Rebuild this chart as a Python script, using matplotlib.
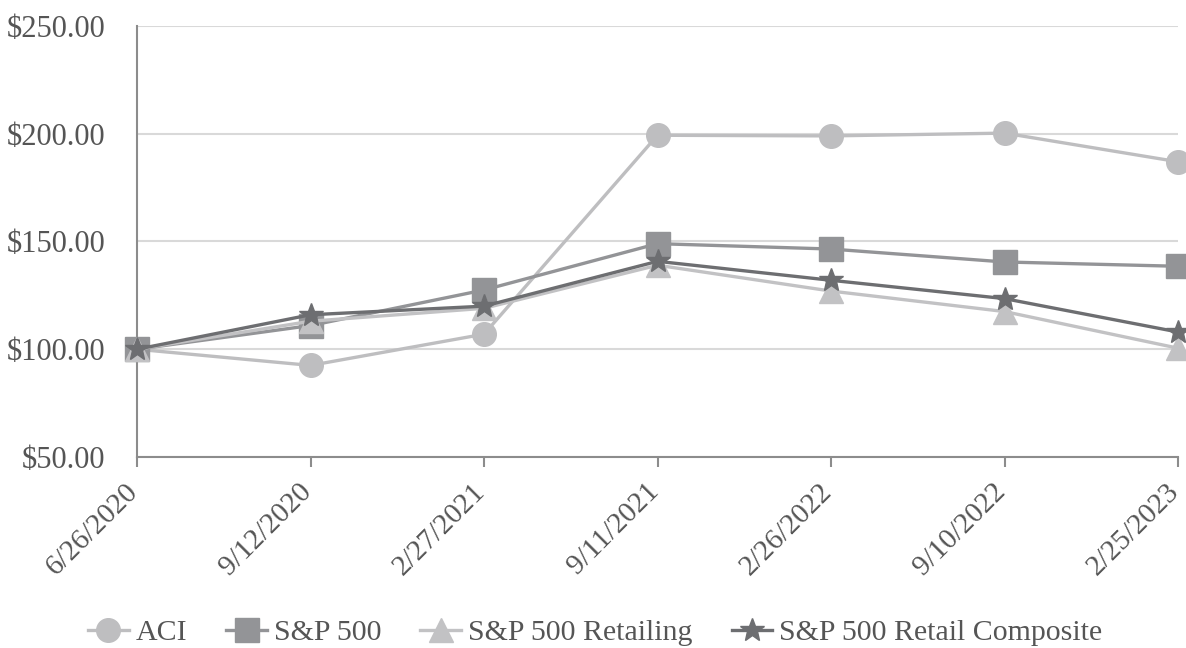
import matplotlib
matplotlib.use("Agg")
import matplotlib.pyplot as plt
from matplotlib.transforms import ScaledTranslation

dates = ["6/26/2020", "9/12/2020", "2/27/2021", "9/11/2021", "2/26/2022", "9/10/2022", "2/25/2023"]
aci = [100, 92.5, 107, 199.3, 199, 200.3, 187]
sp500 = [100, 111, 127.5, 149, 146.5, 140.5, 138.5]
retailing = [100, 113, 119, 139, 127, 117.5, 100.5]
composite = [100, 116, 120, 140.8, 132, 123.5, 108]
yticks = [50, 100, 150, 200, 250]

plt.rcParams['font.family'] = ['Liberation Serif', 'DejaVu Serif']
TXT = "#555555"
AXC = "#8C8C8C"

fig = plt.figure(figsize=(11.86, 6.48), dpi=100)
ax = fig.add_axes([137/1186, 1-457/648, (1178-137)/1186, (457-26)/648])

x = list(range(len(dates)))
series = [
    ("ACI", aci, "#BEBEC0", "o", 17),
    ("S&P 500", sp500, "#939497", "s", 17),
    ("S&P 500 Retailing", retailing, "#C2C2C4", "^", 17),
    ("S&P 500 Retail Composite", composite, "#6D6E71", "*", 18),
]
for name, vals, col, mk, ms in series:
    ax.plot(x, vals, color=col, lw=2.4, marker=mk, markersize=ms, label=name,
            clip_on=False, zorder=3)

ax.set_xlim(0, len(dates) - 1)
ax.set_ylim(50, 250)
ax.set_yticks(yticks)
ax.set_yticklabels([f"${v:.2f}" for v in yticks], fontsize=22, color=TXT)
ax.set_xticks(x)
ax.set_xticklabels(dates, rotation=45, ha="right", va="top", rotation_mode="anchor",
                   fontsize=21, color=TXT)
ax.tick_params(axis="y", length=0, pad=23)
ax.tick_params(axis="x", length=7.5, width=1.5, color=AXC, direction="out", pad=8)
off = ScaledTranslation(-0.12, 0, fig.dpi_scale_trans)
for lab in ax.get_xticklabels():
    lab.set_transform(lab.get_transform() + off)
ax.grid(axis="y", color="#D9D9D9", lw=1.5)
ax.set_axisbelow(True)
for s in ["top", "right"]:
    ax.spines[s].set_visible(False)
for s in ["left", "bottom"]:
    ax.spines[s].set_color(AXC)
    ax.spines[s].set_linewidth(1.5)

fig.legend(loc="center", bbox_to_anchor=(0.502, 1 - 633/648), ncol=4, frameon=False,
           fontsize=21.5, handlelength=1.35, columnspacing=1.3, handletextpad=0.25,
           labelcolor=TXT)

fig.savefig("out.png", dpi=100)
